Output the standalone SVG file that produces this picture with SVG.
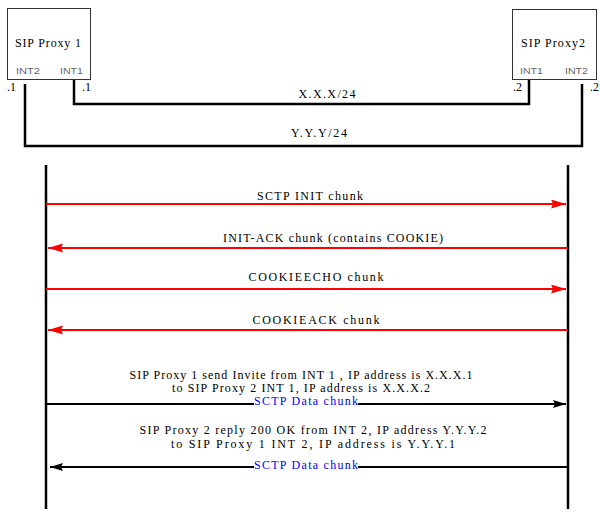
<svg xmlns="http://www.w3.org/2000/svg" width="600" height="512" viewBox="0 0 600 512">
<style>
.box{fill:#fff;stroke:#333;stroke-width:1}
.t{font-family:"Liberation Serif","Times New Roman",serif;font-size:12px;fill:#000}
.int{font-family:"Liberation Sans",Arial,sans-serif;font-size:9px;fill:#666}
.blue{font-family:"Liberation Serif","Times New Roman",serif;font-size:12px;fill:#0000ff}
.net{fill:none;stroke:#000;stroke-width:2.5}
.life{stroke:#000;stroke-width:2.5}
.red{stroke:#ff0000;stroke-width:2;fill:none}
.blk{stroke:#000;stroke-width:2;fill:none}
</style>
<defs>
<marker id="ra" markerUnits="userSpaceOnUse" markerWidth="16" markerHeight="10" refX="15" refY="4.5" orient="auto"><polygon points="0,0 15,4.5 0,9 2,4.5" fill="#ff0000"/></marker>
<marker id="ba" markerUnits="userSpaceOnUse" markerWidth="14" markerHeight="10" refX="13" refY="4" orient="auto"><polygon points="0,0 13,4 0,8 2,4" fill="#000"/></marker>
</defs>
<rect width="600" height="512" fill="#fff"/>
<g id="proxy1">
<rect class="box" x="7.5" y="8.5" width="83" height="71"/>
<text class="t" x="48" y="47" text-anchor="middle" textLength="66" lengthAdjust="spacing">SIP Proxy 1</text>
<text class="int" x="16" y="74" textLength="24" lengthAdjust="spacingAndGlyphs">INT2</text>
<text class="int" x="60" y="74" textLength="23" lengthAdjust="spacingAndGlyphs">INT1</text>
<text class="t" x="7" y="91">.1</text>
<text class="t" x="82" y="91">.1</text>
</g>
<g id="proxy2">
<rect class="box" x="512.5" y="9.5" width="84" height="70"/>
<text class="t" x="553" y="47" text-anchor="middle" textLength="64" lengthAdjust="spacing">SIP Proxy2</text>
<text class="int" x="520" y="74" textLength="23" lengthAdjust="spacingAndGlyphs">INT1</text>
<text class="int" x="565" y="74" textLength="23" lengthAdjust="spacingAndGlyphs">INT2</text>
<text class="t" x="513" y="91">.2</text>
<text class="t" x="590" y="91">.2</text>
</g>
<g id="connectors">
<polyline class="net" points="74,80 74,104 529,104 529,80"/>
<polyline class="net" points="25,84 25,146 582,146 582,84"/>
<text class="t" x="327" y="98" text-anchor="middle" textLength="57" lengthAdjust="spacing">X.X.X/24</text>
<text class="t" x="319" y="137" text-anchor="middle" textLength="56" lengthAdjust="spacing">Y.Y.Y/24</text>
<line class="life" x1="46" y1="165" x2="46" y2="509"/>
<line class="life" x1="568" y1="165" x2="568" y2="509"/>
<line class="red" x1="46" y1="204" x2="566" y2="204" marker-end="url(#ra)"/>
<text class="t" x="310" y="200" text-anchor="middle" textLength="106" lengthAdjust="spacing">SCTP INIT chunk</text>
<line class="red" x1="568" y1="248" x2="48" y2="248" marker-end="url(#ra)"/>
<text class="t" x="333" y="242" text-anchor="middle" textLength="220" lengthAdjust="spacing">INIT-ACK chunk (contains COOKIE)</text>
<line class="red" x1="46" y1="289" x2="566" y2="289" marker-end="url(#ra)"/>
<text class="t" x="316" y="281" text-anchor="middle" textLength="135" lengthAdjust="spacing">COOKIEECHO chunk</text>
<line class="red" x1="568" y1="330" x2="48" y2="330" marker-end="url(#ra)"/>
<text class="t" x="316" y="324" text-anchor="middle" textLength="127" lengthAdjust="spacing">COOKIEACK chunk</text>
<text class="t" x="301" y="379" text-anchor="middle" textLength="343" lengthAdjust="spacing">SIP Proxy 1  send Invite from INT 1 , IP address is X.X.X.1</text>
<text class="t" x="301" y="392" text-anchor="middle" textLength="258" lengthAdjust="spacing">to SIP Proxy 2 INT 1, IP address is X.X.X.2</text>
<line class="blk" x1="46" y1="404" x2="566" y2="404" marker-end="url(#ba)"/>
<rect x="254" y="396" width="104" height="11" fill="#fff"/>
<text class="blue" x="306" y="405" text-anchor="middle" textLength="104" lengthAdjust="spacing">SCTP Data chunk</text>
<text class="t" x="313" y="434" text-anchor="middle" textLength="347" lengthAdjust="spacing">SIP Proxy 2  reply 200  OK  from  INT 2,  IP address Y.Y.Y.2</text>
<text class="t" x="313" y="448" text-anchor="middle" textLength="284" lengthAdjust="spacing">to SIP Proxy 1 INT 2,  IP address is Y.Y.Y.1</text>
<line class="blk" x1="568" y1="467" x2="50" y2="467" marker-end="url(#ba)"/>
<rect x="254" y="460" width="104" height="11" fill="#fff"/>
<text class="blue" x="306" y="469" text-anchor="middle" textLength="104" lengthAdjust="spacing">SCTP Data chunk</text>
</g>
</svg>
